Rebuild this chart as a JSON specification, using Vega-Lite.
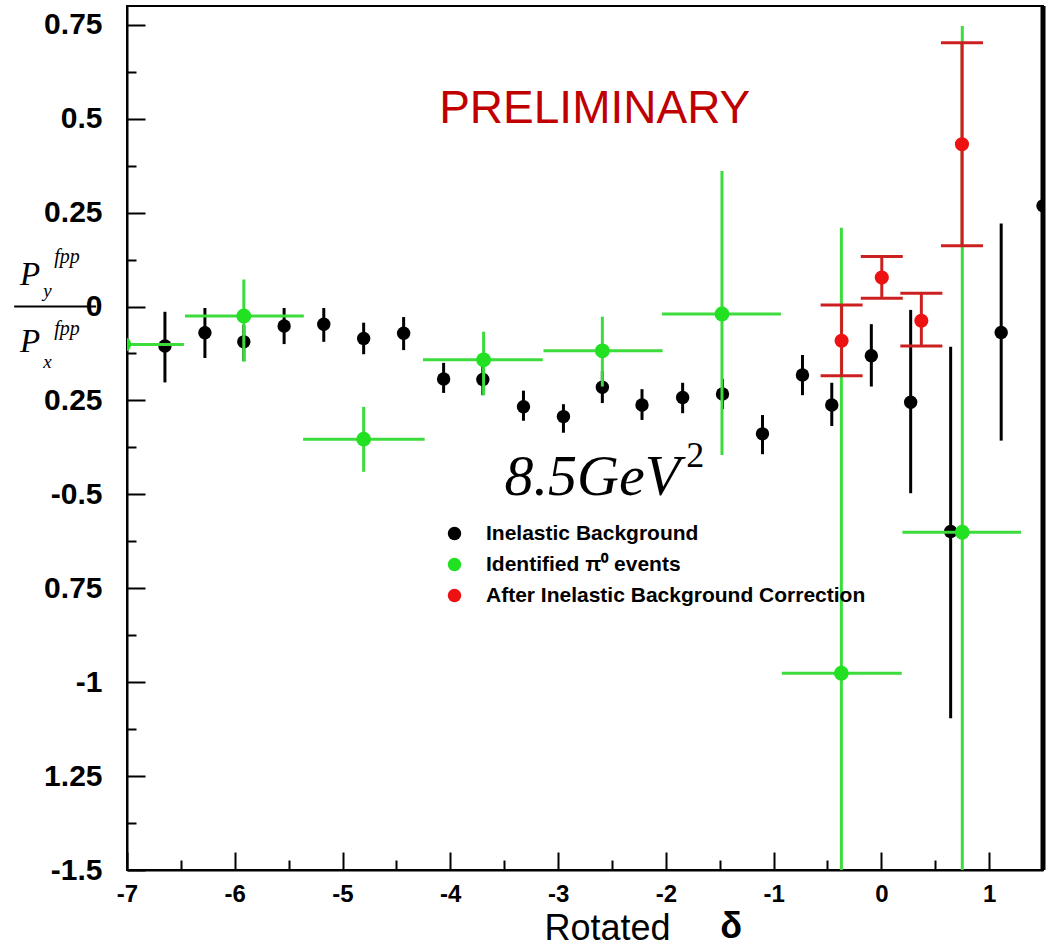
{
  "$schema": "https://vega.github.io/schema/vega-lite/v6.json",
  "width": 916,
  "height": 864,
  "autosize": {"type": "none"},
  "padding": {"left": 127, "top": 6, "right": 9, "bottom": 77},
  "background": "white",
  "config": {
    "view": {"stroke": "black", "strokeWidth": 2},
    "axis": {"grid": false, "domainColor": "black", "domainWidth": 2, "tickColor": "black", "tickWidth": 2, "labelColor": "black", "labelFont": "Liberation Sans", "labelFontWeight": "bold"},
    "legend": {"labelFont": "Liberation Sans", "labelFontWeight": "bold", "labelFontSize": 21, "labelColor": "black", "labelLimit": 0}
  },
  "data": {"values": [
    {"series": "Inelastic Background", "x": -6.648, "y": -0.105, "ylo": -0.202, "yhi": -0.014},
    {"series": "Inelastic Background", "x": -6.277, "y": -0.070, "ylo": -0.137, "yhi": -0.004},
    {"series": "Inelastic Background", "x": -5.916, "y": -0.094, "ylo": -0.145, "yhi": -0.049},
    {"series": "Inelastic Background", "x": -5.542, "y": -0.052, "ylo": -0.100, "yhi": -0.004},
    {"series": "Inelastic Background", "x": -5.174, "y": -0.047, "ylo": -0.094, "yhi": -0.004},
    {"series": "Inelastic Background", "x": -4.804, "y": -0.085, "ylo": -0.127, "yhi": -0.043},
    {"series": "Inelastic Background", "x": -4.433, "y": -0.071, "ylo": -0.116, "yhi": -0.028},
    {"series": "Inelastic Background", "x": -4.062, "y": -0.193, "ylo": -0.230, "yhi": -0.150},
    {"series": "Inelastic Background", "x": -3.698, "y": -0.194, "ylo": -0.236, "yhi": -0.142},
    {"series": "Inelastic Background", "x": -3.321, "y": -0.267, "ylo": -0.304, "yhi": -0.224},
    {"series": "Inelastic Background", "x": -2.950, "y": -0.293, "ylo": -0.336, "yhi": -0.260},
    {"series": "Inelastic Background", "x": -2.589, "y": -0.215, "ylo": -0.257, "yhi": -0.172},
    {"series": "Inelastic Background", "x": -2.221, "y": -0.262, "ylo": -0.302, "yhi": -0.220},
    {"series": "Inelastic Background", "x": -1.844, "y": -0.242, "ylo": -0.284, "yhi": -0.203},
    {"series": "Inelastic Background", "x": -1.474, "y": -0.233, "ylo": -0.273, "yhi": -0.193},
    {"series": "Inelastic Background", "x": -1.103, "y": -0.339, "ylo": -0.393, "yhi": -0.289},
    {"series": "Inelastic Background", "x": -0.732, "y": -0.182, "ylo": -0.236, "yhi": -0.129},
    {"series": "Inelastic Background", "x": -0.460, "y": -0.262, "ylo": -0.318, "yhi": -0.203},
    {"series": "Inelastic Background", "x": -0.093, "y": -0.131, "ylo": -0.213, "yhi": -0.047},
    {"series": "Inelastic Background", "x": 0.272, "y": -0.255, "ylo": -0.497, "yhi": -0.009},
    {"series": "Inelastic Background", "x": 0.643, "y": -0.599, "ylo": -1.096, "yhi": -0.107},
    {"series": "Inelastic Background", "x": 1.112, "y": -0.069, "ylo": -0.357, "yhi": 0.221},
    {"series": "Inelastic Background", "x": 1.5, "y": 0.268, "ylo": 0.24, "yhi": 0.30},
    {"series": "Identified π⁰ events", "x": -7.03, "y": -0.101, "ylo": -0.2, "yhi": 0.0, "xlo": -7.58, "xhi": -6.472},
    {"series": "Identified π⁰ events", "x": -5.916, "y": -0.025, "ylo": -0.147, "yhi": 0.072, "xlo": -6.462, "xhi": -5.359},
    {"series": "Identified π⁰ events", "x": -4.804, "y": -0.353, "ylo": -0.440, "yhi": -0.267, "xlo": -5.366, "xhi": -4.238},
    {"series": "Identified π⁰ events", "x": -3.691, "y": -0.142, "ylo": -0.236, "yhi": -0.067, "xlo": -4.254, "xhi": -3.142},
    {"series": "Identified π⁰ events", "x": -2.589, "y": -0.118, "ylo": -0.213, "yhi": -0.027, "xlo": -3.135, "xhi": -2.030},
    {"series": "Identified π⁰ events", "x": -1.479, "y": -0.020, "ylo": -0.395, "yhi": 0.361, "xlo": -2.035, "xhi": -0.932},
    {"series": "Identified π⁰ events", "x": -0.371, "y": -0.976, "ylo": -1.7, "yhi": 0.210, "xlo": -0.923, "xhi": 0.189},
    {"series": "Identified π⁰ events", "x": 0.751, "y": -0.601, "ylo": -1.7, "yhi": 0.747, "xlo": 0.195, "xhi": 1.297},
    {"series": "After Inelastic Background Correction", "x": -0.369, "y": -0.091, "ylo": -0.184, "yhi": 0.004},
    {"series": "After Inelastic Background Correction", "x": 0.004, "y": 0.077, "ylo": 0.022, "yhi": 0.133},
    {"series": "After Inelastic Background Correction", "x": 0.371, "y": -0.038, "ylo": -0.105, "yhi": 0.035},
    {"series": "After Inelastic Background Correction", "x": 0.748, "y": 0.432, "ylo": 0.162, "yhi": 0.702}
  ]},
  "layer": [
    {
      "mark": {"type": "rule", "color": "black", "strokeWidth": 2},
      "encoding": {
        "x": {"field": "x", "type": "quantitative", "scale": {"domain": [-7, 1.5], "nice": false, "zero": false},
          "axis": {"title": "Rotated", "titleFont": "Liberation Sans", "titleFontSize": 36, "titleFontWeight": "normal", "titleColor": "black", "titleX": 480, "titleY": 69, "titleAlign": "center", "titleBaseline": "alphabetic",
            "values": [-7,-6.75,-6.5,-6.25,-6,-5.75,-5.5,-5.25,-5,-4.75,-4.5,-4.25,-4,-3.75,-3.5,-3.25,-3,-2.75,-2.5,-2.25,-2,-1.75,-1.5,-1.25,-1,-0.75,-0.5,-0.25,0,0.25,0.5,0.75,1,1.25],
            "tickSize": {"condition": {"test": "datum.value % 1 != 0", "value": -10}, "value": -18},
            "labelPadding": 30, "labelFontSize": 24, "labelFlush": false, "labelOverlap": false,
            "labelExpr": "datum.value % 1 != 0 ? '' : '' + datum.value"}},
        "y": {"datum": 0, "type": "quantitative", "scale": {"domain": [-1.5, 0.8], "nice": false, "zero": false},
          "axis": {"title": null,
            "values": [-1.5,-1.375,-1.25,-1.125,-1,-0.875,-0.75,-0.625,-0.5,-0.375,-0.25,-0.125,0,0.125,0.25,0.375,0.5,0.625,0.75],
            "tickSize": {"condition": {"test": "(datum.value * 4) % 1 != 0", "value": -9}, "value": -18},
            "labelPadding": 43, "labelFontSize": 30, "labelFlush": false, "labelOverlap": false,
            "labelExpr": "(datum.value * 4) % 1 != 0 ? '' : ((datum.value == -0.25 || datum.value == -0.75 || datum.value == -1.25) ? '' + (-datum.value) : '' + datum.value)"}}
      }
    },
    {
      "transform": [{"filter": "datum.series == 'Inelastic Background'"}],
      "mark": {"type": "rule", "color": "black", "strokeWidth": 3, "clip": true},
      "encoding": {"x": {"field": "x", "type": "quantitative"}, "y": {"field": "ylo", "type": "quantitative"}, "y2": {"field": "yhi"}}
    },
    {
      "transform": [{"filter": "datum.series == 'Inelastic Background'"}],
      "mark": {"type": "circle", "size": 180, "opacity": 1, "clip": true},
      "encoding": {"x": {"field": "x", "type": "quantitative"}, "y": {"field": "y", "type": "quantitative"},
        "color": {"field": "series", "type": "nominal",
          "scale": {"domain": ["Inelastic Background", "Identified π⁰ events", "After Inelastic Background Correction"], "range": ["#000000", "#22e022", "#ee1111"]},
          "legend": {"title": null, "orient": "none", "legendX": 317, "legendY": 517, "symbolSize": 180, "symbolType": "circle", "rowPadding": 9, "labelOffset": 21, "padding": 0, "symbolStrokeWidth": 0, "labelLimit": 0}}}
    },
    {
      "transform": [{"filter": "datum.series == 'Identified π⁰ events'"}],
      "mark": {"type": "rule", "color": "#3ddc3d", "strokeWidth": 3, "clip": true},
      "encoding": {"x": {"field": "x", "type": "quantitative"}, "y": {"field": "ylo", "type": "quantitative"}, "y2": {"field": "yhi"}}
    },
    {
      "transform": [{"filter": "datum.series == 'Identified π⁰ events'"}],
      "mark": {"type": "rule", "color": "#3ddc3d", "strokeWidth": 3, "clip": true},
      "encoding": {"x": {"field": "xlo", "type": "quantitative"}, "x2": {"field": "xhi"}, "y": {"field": "y", "type": "quantitative"}}
    },
    {
      "transform": [{"filter": "datum.series == 'Identified π⁰ events'"}],
      "mark": {"type": "circle", "size": 220, "opacity": 1, "clip": true},
      "encoding": {"x": {"field": "x", "type": "quantitative"}, "y": {"field": "y", "type": "quantitative"},
        "color": {"field": "series", "type": "nominal"}}
    },
    {
      "transform": [{"filter": "datum.series == 'After Inelastic Background Correction'"}],
      "mark": {"type": "rule", "color": "#cc2020", "strokeWidth": 3, "clip": true},
      "encoding": {"x": {"field": "x", "type": "quantitative"}, "y": {"field": "ylo", "type": "quantitative"}, "y2": {"field": "yhi"}}
    },
    {
      "transform": [{"filter": "datum.series == 'After Inelastic Background Correction'"}],
      "mark": {"type": "tick", "orient": "horizontal", "color": "#cc2020", "size": 42, "thickness": 3, "opacity": 1, "clip": true},
      "encoding": {"x": {"field": "x", "type": "quantitative"}, "y": {"field": "yhi", "type": "quantitative"}}
    },
    {
      "transform": [{"filter": "datum.series == 'After Inelastic Background Correction'"}],
      "mark": {"type": "tick", "orient": "horizontal", "color": "#cc2020", "size": 42, "thickness": 3, "opacity": 1, "clip": true},
      "encoding": {"x": {"field": "x", "type": "quantitative"}, "y": {"field": "ylo", "type": "quantitative"}}
    },
    {
      "transform": [{"filter": "datum.series == 'After Inelastic Background Correction'"}],
      "mark": {"type": "circle", "size": 200, "opacity": 1, "clip": true},
      "encoding": {"x": {"field": "x", "type": "quantitative"}, "y": {"field": "y", "type": "quantitative"},
        "color": {"field": "series", "type": "nominal"}}
    },
    {
      "data": {"values": [{}]},
      "mark": {"type": "rule", "color": "black", "strokeWidth": 5},
      "encoding": {"x": {"datum": 1.5}}
    },
    {
      "data": {"values": [{}]},
      "mark": {"type": "text", "text": "PRELIMINARY", "font": "Liberation Sans", "fontSize": 46, "color": "#c00000", "align": "center", "baseline": "alphabetic"},
      "encoding": {"x": {"datum": -2.66}, "y": {"datum": 0.489}}
    },
    {
      "data": {"values": [{}]},
      "mark": {"type": "text", "text": "8.5GeV", "font": "Liberation Serif", "fontStyle": "italic", "fontSize": 58, "color": "black", "align": "left", "baseline": "alphabetic"},
      "encoding": {"x": {"datum": -3.497}, "y": {"datum": -0.502}}
    },
    {
      "data": {"values": [{}]},
      "mark": {"type": "text", "text": "2", "font": "Liberation Serif", "fontSize": 36, "color": "black", "align": "left", "baseline": "alphabetic"},
      "encoding": {"x": {"datum": -1.81}, "y": {"datum": -0.427}}
    },
    {
      "data": {"values": [{}]},
      "mark": {"type": "text", "text": "δ", "font": "Liberation Sans", "fontWeight": "bold", "fontSize": 36, "color": "black", "align": "center", "baseline": "alphabetic"},
      "encoding": {"x": {"datum": -1.393}, "y": {"datum": -1.681}}
    },
    {
      "data": {"values": [{}]},
      "mark": {"type": "rule", "color": "black", "strokeWidth": 2},
      "encoding": {"x": {"datum": -8.047}, "x2": {"datum": -7.287}, "y": {"datum": 0}}
    },
    {
      "data": {"values": [{}]},
      "mark": {"type": "text", "text": "P", "font": "Liberation Serif", "fontStyle": "italic", "fontSize": 33, "color": "black", "align": "left", "baseline": "alphabetic"},
      "encoding": {"x": {"datum": -7.992}, "y": {"datum": 0.057}}
    },
    {
      "data": {"values": [{}]},
      "mark": {"type": "text", "text": "y", "font": "Liberation Serif", "fontStyle": "italic", "fontSize": 19, "color": "black", "align": "left", "baseline": "alphabetic"},
      "encoding": {"x": {"datum": -7.778}, "y": {"datum": 0.025}}
    },
    {
      "data": {"values": [{}]},
      "mark": {"type": "text", "text": "fpp", "font": "Liberation Serif", "fontStyle": "italic", "fontSize": 20, "color": "black", "align": "left", "baseline": "alphabetic"},
      "encoding": {"x": {"datum": -7.676}, "y": {"datum": 0.116}}
    },
    {
      "data": {"values": [{}]},
      "mark": {"type": "text", "text": "P", "font": "Liberation Serif", "fontStyle": "italic", "fontSize": 33, "color": "black", "align": "left", "baseline": "alphabetic"},
      "encoding": {"x": {"datum": -7.992}, "y": {"datum": -0.120}}
    },
    {
      "data": {"values": [{}]},
      "mark": {"type": "text", "text": "x", "font": "Liberation Serif", "fontStyle": "italic", "fontSize": 19, "color": "black", "align": "left", "baseline": "alphabetic"},
      "encoding": {"x": {"datum": -7.778}, "y": {"datum": -0.164}}
    },
    {
      "data": {"values": [{}]},
      "mark": {"type": "text", "text": "fpp", "font": "Liberation Serif", "fontStyle": "italic", "fontSize": 20, "color": "black", "align": "left", "baseline": "alphabetic"},
      "encoding": {"x": {"datum": -7.676}, "y": {"datum": -0.076}}
    }
  ]
}
